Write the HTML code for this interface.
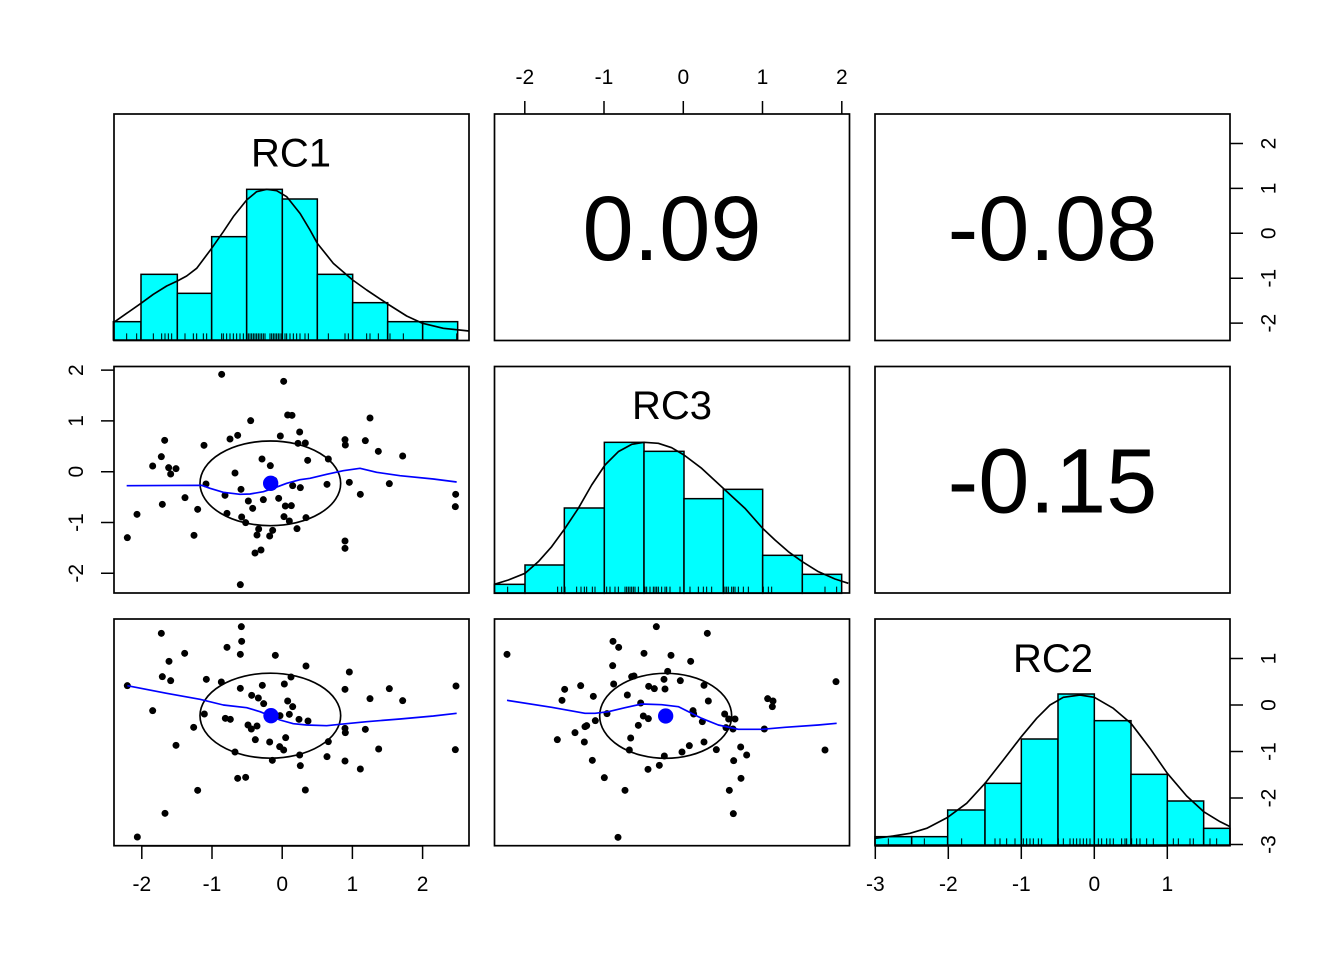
<!DOCTYPE html>
<html><head><meta charset="utf-8"><style>
html,body{margin:0;padding:0;background:#fff}
svg{display:block}
text{font-family:"Liberation Sans",Arial,sans-serif;fill:#000}
</style></head><body>
<svg width="1344" height="960" viewBox="0 0 1344 960" xmlns="http://www.w3.org/2000/svg">
<rect width="1344" height="960" fill="#fff"/>

<!-- ===== Panel (1,1) RC1 histogram ===== -->
<g transform="translate(100,100) scale(0.333333)" stroke="#000" stroke-width="4.5">
  <g fill="#00ffff">
    <rect x="40" y="665" width="83" height="55"/>
    <rect x="123" y="523" width="109" height="197"/>
    <rect x="232" y="580" width="103" height="140"/>
    <rect x="335" y="410" width="105" height="310"/>
    <rect x="440" y="268" width="107" height="452"/>
    <rect x="547" y="297" width="105" height="423"/>
    <rect x="652" y="523" width="106" height="197"/>
    <rect x="758" y="608" width="105" height="112"/>
    <rect x="863" y="665" width="105" height="55"/>
    <rect x="968" y="665" width="105" height="55"/>
  </g>
  <path fill="none" stroke-width="3" d="M80,700V720M110,700V720M160,700V720M185,700V720M195,700V720M205,700V720M215,700V720M255,700V720M280,700V720M290,700V720M310,700V720M320,700V720M365,700V720M370,700V720M380,700V720M390,700V720M400,700V720M410,700V720M420,700V720M430,700V720M440,700V720M445,700V720M450,700V720M455,700V720M460,700V720M465,700V720M470,700V720M475,700V720M480,700V720M485,700V720M490,700V720M495,700V720M510,700V720M515,700V720M520,700V720M525,700V720M530,700V720M535,700V720M540,700V720M545,700V720M555,700V720M560,700V720M570,700V720M580,700V720M590,700V720M600,700V720M615,700V720M625,700V720M685,700V720M735,700V720M745,700V720M800,700V720M810,700V720M835,700V720M870,700V720M910,700V720M1070,700V720"/>
  <polyline fill="none" stroke-width="5" stroke-linejoin="round" points="40,668 80,640 123,610 160,583 200,558 232,543 260,528 290,505 335,445 370,395 400,350 440,300 470,275 500,268 530,272 560,290 600,340 630,390 652,430 700,490 758,540 800,570 863,612 920,648 968,670 1030,685 1107,693"/>
</g>
<text x="291" y="166.5" font-size="40" text-anchor="middle">RC1</text>

<!-- ===== Panel (2,2) RC3 histogram ===== -->
<g transform="translate(485,355) scale(0.333333)" stroke="#000" stroke-width="4.5">
  <g fill="#00ffff">
    <rect x="28" y="688" width="92" height="27"/>
    <rect x="120" y="630" width="118" height="85"/>
    <rect x="238" y="459" width="120" height="256"/>
    <rect x="358" y="262" width="119" height="453"/>
    <rect x="477" y="289" width="120" height="426"/>
    <rect x="597" y="431" width="118" height="284"/>
    <rect x="715" y="403" width="118" height="312"/>
    <rect x="833" y="601" width="119" height="114"/>
    <rect x="952" y="658" width="118" height="57"/>
  </g>
  <path fill="none" stroke-width="3" d="M68,695V715M218,695V715M230,695V715M240,695V715M275,695V715M288,695V715M298,695V715M305,695V715M322,695V715M330,695V715M365,695V715M375,695V715M390,695V715M400,695V715M420,695V715M425,695V715M430,695V715M435,695V715M440,695V715M445,695V715M450,695V715M460,695V715M480,695V715M485,695V715M495,695V715M505,695V715M510,695V715M515,695V715M520,695V715M530,695V715M540,695V715M545,695V715M555,695V715M585,695V715M615,695V715M640,695V715M655,695V715M665,695V715M680,695V715M720,695V715M725,695V715M730,695V715M740,695V715M745,695V715M750,695V715M760,695V715M775,695V715M790,695V715M835,695V715M850,695V715M860,695V715M1020,695V715M1055,695V715"/>
  <polyline fill="none" stroke-width="5" stroke-linejoin="round" points="28,688 70,675 120,655 160,620 200,575 240,520 280,460 320,390 360,330 400,290 440,268 477,262 520,265 560,278 597,300 650,340 715,400 780,460 833,520 870,555 910,590 952,620 1000,650 1050,672 1090,685"/>
</g>
<text x="672" y="419" font-size="40" text-anchor="middle">RC3</text>

<!-- ===== Panel (3,3) RC2 histogram ===== -->
<g transform="translate(860,610) scale(0.333333)" stroke="#000" stroke-width="4.5">
  <g fill="#00ffff">
    <rect x="45" y="680" width="110" height="25"/>
    <rect x="155" y="680" width="108" height="25"/>
    <rect x="263" y="600" width="112" height="105"/>
    <rect x="375" y="520" width="109" height="185"/>
    <rect x="484" y="387" width="110" height="318"/>
    <rect x="594" y="252" width="109" height="453"/>
    <rect x="703" y="332" width="110" height="373"/>
    <rect x="813" y="493" width="109" height="212"/>
    <rect x="922" y="573" width="109" height="132"/>
    <rect x="1031" y="655" width="79" height="50"/>
  </g>
  <path fill="none" stroke-width="3" d="M85,685V705M155,685V705M193,685V705M305,685V705M405,685V705M420,685V705M440,685V705M465,685V705M490,685V705M500,685V705M510,685V705M520,685V705M535,685V705M545,685V705M595,685V705M610,685V705M630,685V705M640,685V705M650,685V705M660,685V705M670,685V705M680,685V705M690,685V705M715,685V705M725,685V705M740,685V705M750,685V705M760,685V705M785,685V705M795,685V705M800,685V705M815,685V705M830,685V705M840,685V705M860,685V705M880,685V705M940,685V705M955,685V705M990,685V705M1000,685V705M1050,685V705M1070,685V705"/>
  <polyline fill="none" stroke-width="5" stroke-linejoin="round" points="45,685 100,678 150,670 200,655 263,622 320,580 375,520 430,450 484,380 530,325 570,285 610,262 660,255 703,262 760,295 813,340 870,415 922,490 980,558 1031,605 1080,635 1110,650"/>
</g>
<text x="1053" y="672" font-size="40" text-anchor="middle">RC2</text>

<!-- ===== Correlations ===== -->
<text x="672" y="260" font-size="92" text-anchor="middle">0.09</text>
<text x="1052.5" y="260" font-size="92" text-anchor="middle">-0.08</text>
<text x="1052.5" y="512.5" font-size="92" text-anchor="middle">-0.15</text>

<!-- ===== Panel (2,1) scatter RC1 x RC3 ===== -->
<g transform="translate(100,355) scale(0.333333)">
  <g fill="#000">
    <circle cx="365" cy="58" r="10.5"/><circle cx="551" cy="79" r="10.5"/><circle cx="563" cy="180" r="10.5"/><circle cx="576" cy="181" r="10.5"/><circle cx="452" cy="197" r="10.5"/><circle cx="810" cy="189" r="10.5"/><circle cx="599" cy="231" r="10.5"/><circle cx="390" cy="252" r="10.5"/><circle cx="413" cy="241" r="10.5"/><circle cx="541" cy="243" r="10.5"/><circle cx="194" cy="256" r="10.5"/><circle cx="312" cy="271" r="10.5"/><circle cx="594" cy="265" r="10.5"/><circle cx="616" cy="264" r="10.5"/><circle cx="735" cy="254" r="10.5"/><circle cx="736" cy="270" r="10.5"/><circle cx="796" cy="257" r="10.5"/><circle cx="835" cy="289" r="10.5"/><circle cx="908" cy="303" r="10.5"/><circle cx="184" cy="305" r="10.5"/><circle cx="158" cy="333" r="10.5"/><circle cx="206" cy="338" r="10.5"/><circle cx="228" cy="341" r="10.5"/><circle cx="212" cy="357" r="10.5"/><circle cx="486" cy="312" r="10.5"/><circle cx="511" cy="332" r="10.5"/><circle cx="623" cy="316" r="10.5"/><circle cx="685" cy="312" r="10.5"/><circle cx="405" cy="354" r="10.5"/><circle cx="318" cy="387" r="10.5"/><circle cx="522" cy="376" r="10.5"/><circle cx="578" cy="392" r="10.5"/><circle cx="601" cy="398" r="10.5"/><circle cx="681" cy="388" r="10.5"/><circle cx="748" cy="382" r="10.5"/><circle cx="868" cy="386" r="10.5"/><circle cx="423" cy="403" r="10.5"/><circle cx="375" cy="421" r="10.5"/><circle cx="255" cy="428" r="10.5"/><circle cx="187" cy="448" r="10.5"/><circle cx="490" cy="434" r="10.5"/><circle cx="536" cy="430" r="10.5"/><circle cx="445" cy="438" r="10.5"/><circle cx="458" cy="460" r="10.5"/><circle cx="556" cy="453" r="10.5"/><circle cx="574" cy="452" r="10.5"/><circle cx="781" cy="418" r="10.5"/><circle cx="1067" cy="418" r="10.5"/><circle cx="1066" cy="455" r="10.5"/><circle cx="111" cy="478" r="10.5"/><circle cx="293" cy="463" r="10.5"/><circle cx="381" cy="475" r="10.5"/><circle cx="425" cy="486" r="10.5"/><circle cx="437" cy="503" r="10.5"/><circle cx="552" cy="485" r="10.5"/><circle cx="568" cy="498" r="10.5"/><circle cx="618" cy="488" r="10.5"/><circle cx="591" cy="521" r="10.5"/><circle cx="476" cy="522" r="10.5"/><circle cx="471" cy="540" r="10.5"/><circle cx="518" cy="526" r="10.5"/><circle cx="509" cy="543" r="10.5"/><circle cx="82" cy="548" r="10.5"/><circle cx="282" cy="541" r="10.5"/><circle cx="735" cy="558" r="10.5"/><circle cx="735" cy="580" r="10.5"/><circle cx="465" cy="594" r="10.5"/><circle cx="483" cy="585" r="10.5"/><circle cx="421" cy="689" r="10.5"/>
  </g>
  <ellipse cx="511" cy="385" rx="211" ry="127" fill="none" stroke="#000" stroke-width="5"/>
  <polyline fill="none" stroke="#0000ff" stroke-width="5" stroke-linejoin="round" points="80,392 305,391 330,400 370,412 420,418 450,417 490,410 520,400 560,385 600,374 630,370 680,358 730,347 780,340 830,352 900,362 1000,372 1070,381"/>
  <circle cx="512" cy="385" r="23" fill="#0000ff"/>
</g>

<!-- ===== Panel (3,1) scatter RC1 x RC2 ===== -->
<g transform="translate(100,610) scale(0.333333)">
  <g fill="#000">
    <circle cx="424" cy="50" r="10.5"/><circle cx="184" cy="70" r="10.5"/><circle cx="425" cy="94" r="10.5"/><circle cx="381" cy="112" r="10.5"/><circle cx="421" cy="133" r="10.5"/><circle cx="254" cy="130" r="10.5"/><circle cx="526" cy="136" r="10.5"/><circle cx="207" cy="154" r="10.5"/><circle cx="618" cy="168" r="10.5"/><circle cx="748" cy="186" r="10.5"/><circle cx="187" cy="200" r="10.5"/><circle cx="212" cy="212" r="10.5"/><circle cx="319" cy="208" r="10.5"/><circle cx="364" cy="216" r="10.5"/><circle cx="573" cy="201" r="10.5"/><circle cx="553" cy="222" r="10.5"/><circle cx="487" cy="226" r="10.5"/><circle cx="421" cy="235" r="10.5"/><circle cx="735" cy="238" r="10.5"/><circle cx="868" cy="236" r="10.5"/><circle cx="1068" cy="228" r="10.5"/><circle cx="82" cy="227" r="10.5"/><circle cx="455" cy="256" r="10.5"/><circle cx="475" cy="264" r="10.5"/><circle cx="491" cy="281" r="10.5"/><circle cx="563" cy="273" r="10.5"/><circle cx="578" cy="290" r="10.5"/><circle cx="810" cy="266" r="10.5"/><circle cx="908" cy="272" r="10.5"/><circle cx="158" cy="302" r="10.5"/><circle cx="313" cy="312" r="10.5"/><circle cx="376" cy="325" r="10.5"/><circle cx="391" cy="328" r="10.5"/><circle cx="540" cy="317" r="10.5"/><circle cx="568" cy="313" r="10.5"/><circle cx="597" cy="328" r="10.5"/><circle cx="624" cy="333" r="10.5"/><circle cx="281" cy="352" r="10.5"/><circle cx="444" cy="345" r="10.5"/><circle cx="454" cy="357" r="10.5"/><circle cx="471" cy="348" r="10.5"/><circle cx="735" cy="355" r="10.5"/><circle cx="736" cy="368" r="10.5"/><circle cx="796" cy="358" r="10.5"/><circle cx="466" cy="389" r="10.5"/><circle cx="509" cy="396" r="10.5"/><circle cx="557" cy="383" r="10.5"/><circle cx="539" cy="410" r="10.5"/><circle cx="551" cy="420" r="10.5"/><circle cx="685" cy="395" r="10.5"/><circle cx="228" cy="406" r="10.5"/><circle cx="405" cy="426" r="10.5"/><circle cx="836" cy="417" r="10.5"/><circle cx="1066" cy="419" r="10.5"/><circle cx="599" cy="435" r="10.5"/><circle cx="517" cy="451" r="10.5"/><circle cx="681" cy="440" r="10.5"/><circle cx="735" cy="453" r="10.5"/><circle cx="601" cy="467" r="10.5"/><circle cx="781" cy="477" r="10.5"/><circle cx="413" cy="505" r="10.5"/><circle cx="437" cy="502" r="10.5"/><circle cx="293" cy="541" r="10.5"/><circle cx="616" cy="540" r="10.5"/><circle cx="195" cy="610" r="10.5"/><circle cx="112" cy="681" r="10.5"/>
  </g>
  <ellipse cx="511" cy="317" rx="211" ry="127.5" fill="none" stroke="#000" stroke-width="5"/>
  <polyline fill="none" stroke="#0000ff" stroke-width="5" stroke-linejoin="round" points="82,227 200,250 300,268 370,285 440,293 480,305 512,318 540,330 580,341 620,345 680,347 720,343 800,335 900,327 1000,318 1070,310"/>
  <circle cx="513" cy="317" r="23" fill="#0000ff"/>
</g>

<!-- ===== Panel (3,2) scatter RC3 x RC2 ===== -->
<g transform="translate(485,610) scale(0.333333)">
  <g fill="#000">
    <circle cx="514" cy="50" r="10.5"/><circle cx="667" cy="70" r="10.5"/><circle cx="384" cy="94" r="10.5"/><circle cx="401" cy="112" r="10.5"/><circle cx="66" cy="133" r="10.5"/><circle cx="477" cy="130" r="10.5"/><circle cx="558" cy="136" r="10.5"/><circle cx="617" cy="154" r="10.5"/><circle cx="383" cy="167" r="10.5"/><circle cx="548" cy="184" r="10.5"/><circle cx="440" cy="200" r="10.5"/><circle cx="447" cy="198" r="10.5"/><circle cx="386" cy="222" r="10.5"/><circle cx="537" cy="208" r="10.5"/><circle cx="586" cy="212" r="10.5"/><circle cx="657" cy="226" r="10.5"/><circle cx="491" cy="229" r="10.5"/><circle cx="508" cy="236" r="10.5"/><circle cx="540" cy="237" r="10.5"/><circle cx="239" cy="238" r="10.5"/><circle cx="287" cy="227" r="10.5"/><circle cx="1053" cy="215" r="10.5"/><circle cx="325" cy="259" r="10.5"/><circle cx="231" cy="271" r="10.5"/><circle cx="427" cy="255" r="10.5"/><circle cx="467" cy="279" r="10.5"/><circle cx="670" cy="273" r="10.5"/><circle cx="848" cy="266" r="10.5"/><circle cx="864" cy="273" r="10.5"/><circle cx="862" cy="290" r="10.5"/><circle cx="366" cy="311" r="10.5"/><circle cx="475" cy="318" r="10.5"/><circle cx="490" cy="326" r="10.5"/><circle cx="331" cy="332" r="10.5"/><circle cx="624" cy="302" r="10.5"/><circle cx="626" cy="312" r="10.5"/><circle cx="652" cy="335" r="10.5"/><circle cx="719" cy="312" r="10.5"/><circle cx="731" cy="327" r="10.5"/><circle cx="750" cy="327" r="10.5"/><circle cx="723" cy="353" r="10.5"/><circle cx="744" cy="357" r="10.5"/><circle cx="838" cy="357" r="10.5"/><circle cx="300" cy="350" r="10.5"/><circle cx="305" cy="347" r="10.5"/><circle cx="270" cy="368" r="10.5"/><circle cx="460" cy="346" r="10.5"/><circle cx="217" cy="389" r="10.5"/><circle cx="298" cy="396" r="10.5"/><circle cx="437" cy="384" r="10.5"/><circle cx="433" cy="420" r="10.5"/><circle cx="613" cy="407" r="10.5"/><circle cx="591" cy="426" r="10.5"/><circle cx="657" cy="396" r="10.5"/><circle cx="694" cy="419" r="10.5"/><circle cx="538" cy="438" r="10.5"/><circle cx="767" cy="411" r="10.5"/><circle cx="785" cy="435" r="10.5"/><circle cx="746" cy="452" r="10.5"/><circle cx="1020" cy="420" r="10.5"/><circle cx="322" cy="451" r="10.5"/><circle cx="489" cy="478" r="10.5"/><circle cx="523" cy="466" r="10.5"/><circle cx="358" cy="503" r="10.5"/><circle cx="768" cy="505" r="10.5"/><circle cx="420" cy="541" r="10.5"/><circle cx="733" cy="541" r="10.5"/><circle cx="745" cy="611" r="10.5"/><circle cx="399" cy="682" r="10.5"/>
  </g>
  <ellipse cx="542" cy="317.5" rx="198" ry="127.5" fill="none" stroke="#000" stroke-width="5"/>
  <polyline fill="none" stroke="#0000ff" stroke-width="5" stroke-linejoin="round" points="66,271 200,292 300,310 330,310 370,305 420,293 470,282 530,284 580,290 610,305 650,325 700,345 760,358 830,358 900,352 1000,345 1055,340"/>
  <circle cx="542" cy="318" r="23" fill="#0000ff"/>
</g>

<!-- ===== Panel boxes ===== -->
<g fill="none" stroke="#000" stroke-width="1.7">
  <rect x="114" y="114" width="355" height="226.5"/>
  <rect x="494.5" y="114" width="355" height="226.5"/>
  <rect x="875" y="114" width="355" height="226.5"/>
  <rect x="114" y="366.5" width="355" height="226.5"/>
  <rect x="494.5" y="366.5" width="355" height="226.5"/>
  <rect x="875" y="366.5" width="355" height="226.5"/>
  <rect x="114" y="619" width="355" height="226.7"/>
  <rect x="494.5" y="619" width="355" height="226.7"/>
  <rect x="875" y="619" width="355" height="226.7"/>
</g>

<!-- ===== Axes ===== -->
<g stroke="#000" stroke-width="1.5" fill="none">
  <path d="M524.8,101V114M604,101V114M683.3,101V114M762.5,101V114M841.8,101V114"/>
  <path d="M141.8,846V859M212,846V859M282.2,846V859M352.4,846V859M422.6,846V859M141.8,846H422.6"/>
  <path d="M875.3,846V859M948.3,846V859M1021.3,846V859M1094.3,846V859M1167.3,846V859M875.3,846H1167.3"/>
  <path d="M101,370.1H114M101,420.9H114M101,471.7H114M101,522.5H114M101,573.3H114"/>
  <path d="M1230,143.5H1243M1230,188.4H1243M1230,233.3H1243M1230,278.2H1243M1230,323.1H1243"/>
  <path d="M1230,658.5H1243M1230,705H1243M1230,751.5H1243M1230,798H1243M1230,844.5H1243"/>
</g>

<g font-size="21" text-anchor="middle">
  <text x="524.8" y="84">-2</text>
  <text x="604" y="84">-1</text>
  <text x="683.3" y="84">0</text>
  <text x="762.5" y="84">1</text>
  <text x="841.8" y="84">2</text>
  <text x="141.8" y="891">-2</text>
  <text x="212" y="891">-1</text>
  <text x="282.2" y="891">0</text>
  <text x="352.4" y="891">1</text>
  <text x="422.6" y="891">2</text>
  <text x="875.3" y="891">-3</text>
  <text x="948.3" y="891">-2</text>
  <text x="1021.3" y="891">-1</text>
  <text x="1094.3" y="891">0</text>
  <text x="1167.3" y="891">1</text>
  <text transform="translate(83,370.1) rotate(-90)">2</text>
  <text transform="translate(83,420.9) rotate(-90)">1</text>
  <text transform="translate(83,471.7) rotate(-90)">0</text>
  <text transform="translate(83,522.5) rotate(-90)">-1</text>
  <text transform="translate(83,573.3) rotate(-90)">-2</text>
  <text transform="translate(1275.5,143.5) rotate(-90)">2</text>
  <text transform="translate(1275.5,188.4) rotate(-90)">1</text>
  <text transform="translate(1275.5,233.3) rotate(-90)">0</text>
  <text transform="translate(1275.5,278.2) rotate(-90)">-1</text>
  <text transform="translate(1275.5,323.1) rotate(-90)">-2</text>
  <text transform="translate(1275.5,658.5) rotate(-90)">1</text>
  <text transform="translate(1275.5,705) rotate(-90)">0</text>
  <text transform="translate(1275.5,751.5) rotate(-90)">-1</text>
  <text transform="translate(1275.5,798) rotate(-90)">-2</text>
  <text transform="translate(1275.5,844.5) rotate(-90)">-3</text>
</g>
</svg>
</body></html>
